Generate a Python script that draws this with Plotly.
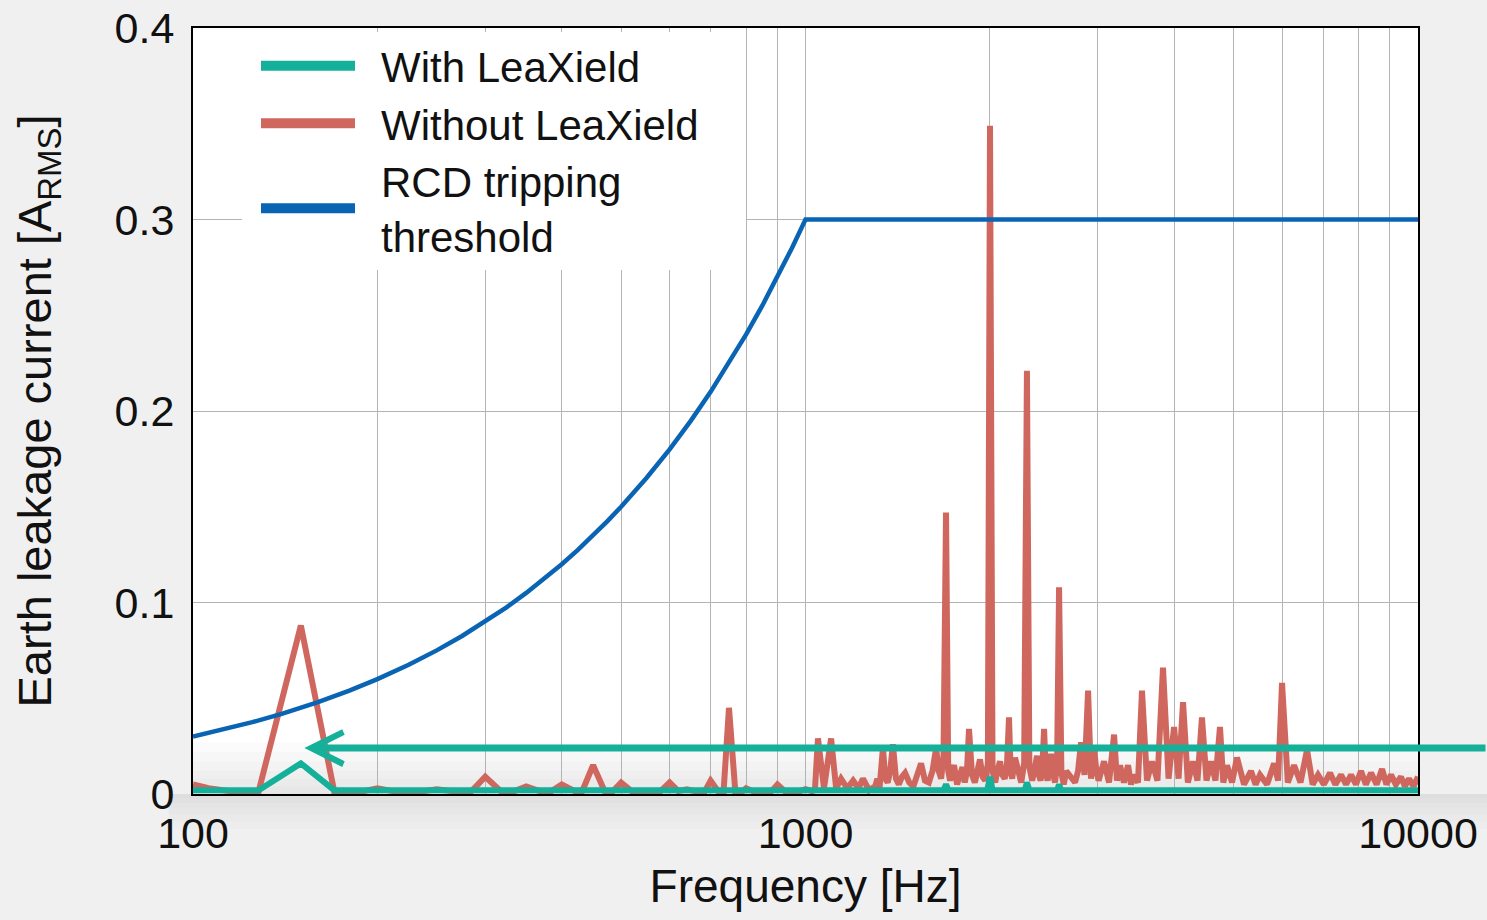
import math
import plotly.graph_objects as go

# ---------------- data ----------------
without_freq = [100, 106, 115, 128, 150, 170, 190, 200, 212, 238, 250, 265, 285, 300, 318, 335,
                350, 368, 385, 400, 420, 432, 450, 470, 485, 500, 520, 580, 600, 620, 640, 660,
                685, 700, 720, 735, 750, 768, 790, 800, 820, 880, 900, 925, 980, 1000, 1025,
                1036, 1048, 1072, 1101, 1122, 1143, 1170, 1196, 1220, 1241, 1270,
                1300, 1310, 1320, 1338, 1350, 1362, 1375, 1389, 1405, 1420, 1437, 1454, 1477,
                1500, 1522, 1544, 1567, 1590, 1612, 1634, 1650, 1665, 1680, 1696, 1710, 1722,
                1735, 1748, 1768, 1788, 1804, 1820, 1835, 1849, 1870, 1890, 1908, 1927, 1946,
                1965, 1985, 2001, 2020, 2040, 2060, 2078, 2096, 2115, 2132, 2149, 2162, 2175,
                2198, 2225, 2250, 2275, 2299, 2320, 2345, 2366, 2388, 2404, 2420, 2436, 2452,
                2468, 2485, 2500, 2517, 2535, 2555, 2575, 2594, 2617, 2640, 2665, 2693, 2724,
                2755, 2786, 2818, 2855, 2893, 2925, 2958, 2985, 3010, 3040, 3072,
                3130, 3190, 3225, 3263, 3310,
                3362, 3400, 3438, 3490, 3543, 3610, 3679, 3755, 3834, 3915, 3997, 4065, 4134,
                4210, 4292, 4365, 4439, 4515, 4592, 4670, 4750, 4810, 4877, 4970, 5064, 5200,
                5337, 5430, 5521, 5670, 5821, 5910, 5998, 6130, 6275, 6430, 6589, 6730, 6867,
                7020, 7185, 7330, 7488, 7630, 7775, 7920, 8071, 8220, 8381, 8560, 8737, 8880,
                9036, 9200, 9380, 9520, 9667, 9830, 10000]
without_val = [0.005, 0.003, 0.0015, 0.0015, 0.088, 0.0015, 0.0015, 0.003, 0.0015, 0.0015, 0.0025,
               0.0015, 0.0015, 0.009, 0.0015, 0.0015, 0.004, 0.0015, 0.0015, 0.005, 0.0015, 0.0015,
               0.015, 0.0015, 0.0015, 0.006, 0.0015, 0.0015, 0.006, 0.0015, 0.0025, 0.0015, 0.0015,
               0.007, 0.0015, 0.0015, 0.045, 0.0015, 0.0015, 0.003, 0.0015, 0.0015, 0.005, 0.0015,
               0.0015, 0.0025, 0.0015, 0.002, 0.029, 0.003, 0.029, 0.003, 0.008, 0.003, 0.007,
               0.003, 0.008, 0.002,
               0.004, 0.008, 0.002, 0.024, 0.008, 0.006, 0.012, 0.026, 0.008, 0.005, 0.009, 0.011,
               0.006, 0.004, 0.010, 0.016, 0.007, 0.006, 0.012, 0.024, 0.012, 0.008, 0.020, 0.147,
               0.012, 0.007, 0.012, 0.015, 0.005, 0.010, 0.014, 0.006, 0.012, 0.034, 0.010, 0.006,
               0.013, 0.018, 0.009, 0.007, 0.016, 0.349, 0.012, 0.006, 0.013, 0.017, 0.010, 0.008,
               0.014, 0.040, 0.012, 0.008, 0.019, 0.012, 0.006, 0.016, 0.221, 0.014, 0.007, 0.013,
               0.020, 0.010, 0.007, 0.014, 0.034, 0.011, 0.007, 0.013, 0.021, 0.011, 0.006, 0.016,
               0.108, 0.011, 0.005, 0.012, 0.010, 0.008, 0.006, 0.012, 0.027, 0.010, 0.054, 0.008,
               0.024, 0.012, 0.007, 0.012, 0.017,
               0.006, 0.031, 0.007, 0.015, 0.006,
               0.015, 0.005, 0.010, 0.006, 0.054, 0.007, 0.017, 0.007, 0.066, 0.008, 0.035, 0.008,
               0.048, 0.006, 0.017, 0.007, 0.040, 0.007, 0.017, 0.007, 0.035, 0.006, 0.015, 0.006,
               0.019, 0.005, 0.012, 0.005, 0.010, 0.005, 0.016, 0.007, 0.058, 0.006, 0.015, 0.006,
               0.023, 0.005, 0.010, 0.005, 0.011, 0.005, 0.010, 0.005, 0.010, 0.005, 0.012, 0.005,
               0.011, 0.005, 0.013, 0.005, 0.010, 0.005, 0.009, 0.004, 0.008, 0.004, 0.009]
assert len(without_freq) == len(without_val)

with_freq = [100, 128, 150, 170, 1680, 1696, 1712, 1980, 2001, 2020, 2280, 2299, 2320,
             2575, 2594, 2615, 10000]
with_val = [0.002, 0.002, 0.016, 0.002, 0.002, 0.005, 0.002, 0.002, 0.009, 0.002, 0.002,
            0.006, 0.002, 0.002, 0.005, 0.002, 0.002]

rcd_freq = [100, 110, 125, 140, 160, 180, 200, 225, 250, 275, 300, 325, 350, 375, 400, 425,
            450, 475, 500, 550, 600, 650, 700, 750, 800, 850, 900, 950, 1000, 10000]
rcd_val = [0.030, 0.033, 0.0375, 0.042, 0.048, 0.054, 0.060, 0.0675, 0.075, 0.0825, 0.090,
           0.0975, 0.105, 0.1125, 0.120, 0.1275, 0.135, 0.1425, 0.150, 0.165, 0.180, 0.195,
           0.210, 0.225, 0.240, 0.255, 0.270, 0.285, 0.300, 0.300]

x_tickvals = [100, 200, 300, 400, 500, 600, 700, 800, 900,
              1000, 2000, 3000, 4000, 5000, 6000, 7000, 8000, 9000, 10000]
x_ticktext = ["100", "", "", "", "", "", "", "", "",
              "1000", "", "", "", "", "", "", "", "", "10000"]
y_tickvals = [0, 0.1, 0.2, 0.3, 0.4]
y_ticktext = ["0", "0.1", "0.2", "0.3", "0.4"]

GAP = "\u2002"  # spacing between legend sample line and label
names = [GAP + "With LeaXield", GAP + "Without LeaXield" + GAP + GAP,
         GAP + "RCD tripping<br>" + GAP + "threshold"]

ARROW_FREQ = 152      # Hz, arrow tip
ARROW_LEVEL = 0.024   # A, arrow height

# ---------------- styles ----------------
TEAL = "#14b09a"
RED = "#d0675f"
BLUE = "#0a64b4"
FONT = "Liberation Sans, Arial, Helvetica, sans-serif"

fig = go.Figure()

# actual curves (legend handled by dummy traces with thicker sample lines)
fig.add_trace(go.Scatter(x=without_freq, y=without_val, mode="lines",
                         line=dict(color=RED, width=6), showlegend=False))
fig.add_trace(go.Scatter(x=rcd_freq, y=rcd_val, mode="lines",
                         line=dict(color=BLUE, width=4.5), showlegend=False))
fig.add_trace(go.Scatter(x=with_freq, y=with_val, mode="lines",
                         line=dict(color=TEAL, width=6), showlegend=False))

for nm, col, rank in [(names[0], TEAL, 1), (names[1], RED, 2), (names[2], BLUE, 3)]:
    fig.add_trace(go.Scatter(x=[None], y=[None], mode="lines", name=nm,
                             line=dict(color=col, width=10), legendrank=rank))

fig.add_annotation(x=math.log10(ARROW_FREQ), y=ARROW_LEVEL, xref="x", yref="y",
                   ax=1250, ay=0, axref="pixel", ayref="pixel", text="",
                   showarrow=True, arrowhead=5, arrowsize=0.9, arrowwidth=7,
                   arrowcolor=TEAL, standoff=0)

# soft shading near the bottom of the plot and a shadow under the x axis
shapes = []
for top in [0.004, 0.008, 0.012, 0.017, 0.022, 0.027]:
    shapes.append(dict(type="rect", xref="x domain", yref="y", x0=0, x1=1, y0=0, y1=top,
                       fillcolor="rgba(0,0,0,0.014)", line=dict(width=0), layer="below"))
for bot in [-0.006, -0.012, -0.019, -0.027, -0.036, -0.046]:
    shapes.append(dict(type="rect", xref="paper", yref="paper", x0=-0.02, x1=1.06, y0=bot, y1=0,
                       fillcolor="rgba(0,0,0,0.013)", line=dict(width=0), layer="below"))

fig.update_xaxes(type="log", range=[2, 4], tickvals=x_tickvals, ticktext=x_ticktext,
                 showgrid=True, gridcolor="#b4b4b4", gridwidth=1,
                 showline=True, linecolor="black", linewidth=2, mirror=True,
                 ticks="", ticklabelstandoff=0,
                 tickfont=dict(size=43, color="#111"),
                 title=dict(text="Frequency [Hz]", font=dict(size=46, color="#111"), standoff=14),
                 zeroline=False, automargin=False)
fig.update_yaxes(range=[0, 0.4], tickvals=y_tickvals, ticktext=y_ticktext,
                 showgrid=True, gridcolor="#b4b4b4", gridwidth=1,
                 showline=True, linecolor="black", linewidth=2, mirror=True,
                 ticks="", ticklabelstandoff=8,
                 tickfont=dict(size=43, color="#111"),
                 title=dict(text="Earth leakage current [A<sub>RMS</sub>]",
                            font=dict(size=47, color="#111"), standoff=48),
                 zeroline=False, automargin=False)

fig.update_layout(
    width=1487, height=920,
    margin=dict(l=193, r=69, t=28, b=126, autoexpand=False),
    paper_bgcolor="#f0f0f0", plot_bgcolor="white",
    font=dict(family=FONT, color="#111"),
    shapes=shapes,
    legend=dict(x=0.04, y=0.995, xanchor="left", yanchor="top", bgcolor="white",
                borderwidth=0, font=dict(size=42, color="#111"),
                itemwidth=94, indentation=14, tracegroupgap=0, traceorder="normal"),
)

fig.write_html("out.html", config={"displayModeBar": False},
               post_script="document.body.style.margin='0';")
